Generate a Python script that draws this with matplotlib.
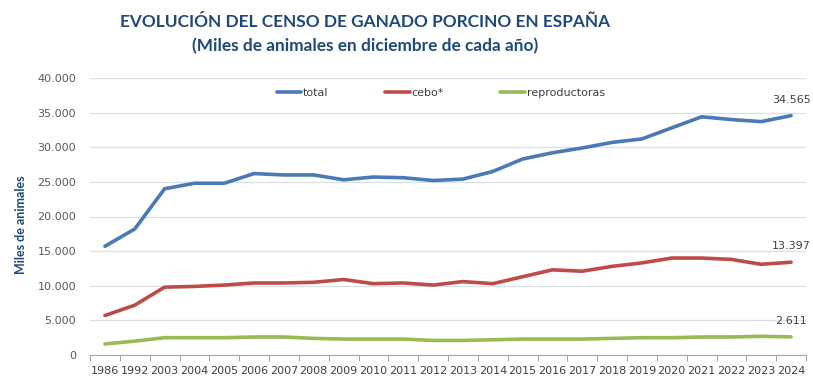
import numpy as np
import matplotlib.pyplot as plt
from matplotlib.ticker import FuncFormatter, FixedLocator

years = ["1986", "1992", "2003", "2004", "2005", "2006", "2007", "2008", "2009", "2010",
         "2011", "2012", "2013", "2014", "2015", "2016", "2017", "2018", "2019", "2020",
         "2021", "2022", "2023", "2024"]
total = [15700, 18200, 24000, 24800, 24800, 26200, 26000, 26000, 25300, 25700,
         25600, 25200, 25400, 26500, 28300, 29200, 29900, 30700, 31200, 32800,
         34400, 34000, 33700, 34565]
cebo = [5700, 7200, 9800, 9900, 10100, 10400, 10400, 10500, 10900, 10300,
        10400, 10100, 10600, 10300, 11300, 12300, 12100, 12800, 13300, 14000,
        14000, 13800, 13100, 13397]
reproductoras = [1600, 2000, 2500, 2500, 2500, 2600, 2600, 2400, 2300, 2300,
                 2300, 2100, 2100, 2200, 2300, 2300, 2300, 2400, 2500, 2500,
                 2600, 2600, 2700, 2611]
series_names = ["total", "cebo*", "reproductoras"]
colors = ["#4a7ab5", "#be4b48", "#98b954"]

fig = plt.figure(figsize=(8.13, 3.81), dpi=100)
ax = fig.add_axes([90 / 813, 1 - 355 / 381, 716 / 813, 277 / 381])

x = np.arange(len(years))
for vals, name, c in zip([total, cebo, reproductoras], series_names, colors):
    ax.plot(x, vals, color=c, lw=2.6, label=name, solid_capstyle="round")

ax.set_xlim(-0.5, len(years) - 0.5)
ax.set_ylim(0, 40000)
ax.set_yticks(np.arange(0, 40001, 5000))
ax.yaxis.set_major_formatter(FuncFormatter(lambda v, p: f"{int(v):,}".replace(",", ".")))
ax.set_xticks(x)
ax.set_xticklabels(years)
ax.xaxis.set_minor_locator(FixedLocator(np.arange(-0.5, len(years), 1)))
ax.tick_params(axis="x", which="major", length=0, pad=8, labelsize=8, labelcolor="#404040")
ax.tick_params(axis="x", which="minor", length=4, color="#a6a6a6", width=0.8)
ax.tick_params(axis="y", length=0, pad=10, labelsize=8, labelcolor="#595959")
ax.grid(axis="y", color="#d7dfe9", lw=0.9)
ax.set_axisbelow(True)
for s in ["left", "right", "top"]:
    ax.spines[s].set_visible(False)
ax.spines["bottom"].set_color("#a6a6a6")

for vals in [total, cebo, reproductoras]:
    ax.annotate(f"{vals[-1]:,}".replace(",", "."), (x[-1], vals[-1]), xytext=(0, 8),
                textcoords="offset points", ha="center", va="bottom", fontsize=8, color="#404040")

ax.legend(loc="upper center", bbox_to_anchor=(0.49, 1.0), ncol=3, frameon=False, fontsize=8,
          handlelength=2.2, handletextpad=0.15, columnspacing=5.1,
          labelcolor="#404040")

ax.set_ylabel("Miles de animales", fontsize=9, fontweight="bold", color="#1f497d",
              family=["Lato", "DejaVu Sans"])
ax.yaxis.set_label_coords(-0.088, 0.47)

fig.text(365 / 813, 1 - 22 / 381, "EVOLUCIÓN DEL CENSO DE GANADO PORCINO EN ESPAÑA",
         ha="center", va="center", fontsize=12.4, fontweight="bold", color="#1f497d",
         family=["Lato", "DejaVu Sans"])
fig.text(365 / 813, 1 - 46 / 381, "(Miles de animales en diciembre de cada año)",
         ha="center", va="center", fontsize=12.4, fontweight="bold", color="#1f497d",
         family=["Lato", "DejaVu Sans"])

fig.savefig("out.png", dpi=100)
